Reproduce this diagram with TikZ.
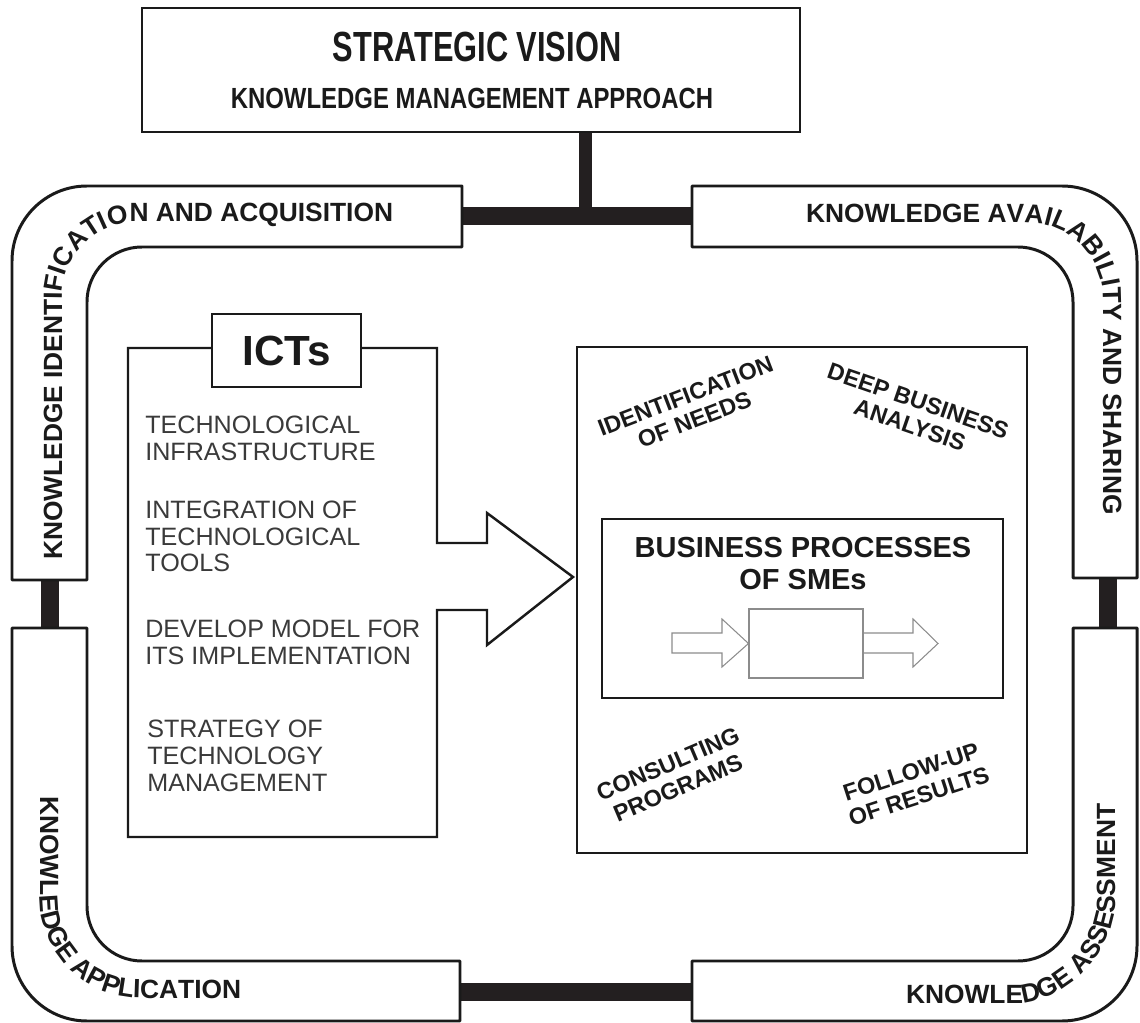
\documentclass[tikz,border=0pt]{standalone}
\usepackage{fontspec}
\setmainfont{Liberation Sans}
\newfontfamily\visionfont[FakeStretch=0.73]{Liberation Sans}
\newfontfamily\approachfont[FakeStretch=0.82]{Liberation Sans}
\usetikzlibrary{decorations.text}
\definecolor{ink}{HTML}{1A1A1A}
\definecolor{barfill}{HTML}{231F20}
\definecolor{itemgray}{HTML}{3A3A3A}
\definecolor{flowgray}{HTML}{8C8C8C}
\newcommand{\bandfont}{\fontsize{15}{17}\selectfont\bfseries}
\tikzset{band/.style = {draw = ink, line width = 1.7pt, fill = white, line join = round}}
\tikzset{bar/.style = {draw = barfill, line width = 10.2pt}}
\tikzset{stem/.style = {draw = barfill, line width = 7.4pt}}
\tikzset{box/.style = {draw = ink, line width = 1.4pt, inner sep = 0}}
\tikzset{item/.style = {anchor = west, align = left, inner sep = 0, text = itemgray, font = \fontsize{14.3}{15.2}\selectfont}}
\tikzset{topic/.style = {align = center, inner sep = 0, text = ink, font = \fontsize{13.3}{14.6}\selectfont\bfseries}}
\tikzset{flow/.style = {draw = flowgray, line width = 0.6pt}}

\begin{document}
\begin{tikzpicture}[x = 0.02cm, y = -0.02cm]
    \useasboundingbox (0, 0) rectangle (1140, 1023);

    % strategic vision on top
    \node [box, line width = 1.5pt, minimum width = 13.16cm, minimum height = 2.48cm] (vision) at (471, 70) {};
    \node [text = ink, font = \visionfont\fontsize{24}{28}\selectfont\bfseries] (vision-title) at (477, 47) {STRATEGIC VISION};
    \node [text = ink, font = \approachfont\fontsize{16.6}{20}\selectfont\bfseries] (vision-sub) at (472, 98) {KNOWLEDGE MANAGEMENT APPROACH};

    % joints between the four bands
    \coordinate (hub) at (585, 216);
    \coordinate (acq-end) at (462, 216);
    \coordinate (avail-end) at (692, 216);
    \coordinate (acq-foot) at (50, 580);
    \coordinate (appl-head) at (50, 628);
    \coordinate (avail-foot) at (1108, 578);
    \coordinate (assess-head) at (1108, 628);
    \coordinate (appl-end) at (460, 992);
    \coordinate (assess-end) at (692, 992);

    \draw [stem] (hub) -- (hub |- vision.south);
    \draw [bar] (acq-end) -- (avail-end);
    \draw [bar] (acq-foot) -- (appl-head);
    \draw [bar] (avail-foot) -- (assess-head);
    \draw [bar] (appl-end) -- (assess-end);

    % the four bands of the cycle
    \draw [band] (462, 186) -- (87, 186) .. controls (45.6, 186) and (12, 219.6) .. (12, 261) -- (12, 580) -- (87, 580)
        -- (87, 302) .. controls (87, 271.6) and (111.6, 247) .. (142, 247) -- (462, 247) -- cycle;
    \draw [band] (692, 186) -- (1062, 186) .. controls (1103.4, 186) and (1137, 219.6) .. (1137, 261) -- (1137, 578) -- (1073, 578)
        -- (1073, 302) .. controls (1073, 271.6) and (1048.4, 247) .. (1018, 247) -- (692, 247) -- cycle;
    \draw [band] (460, 1021) -- (87, 1021) .. controls (45.6, 1021) and (12, 987.4) .. (12, 946) -- (12, 628) -- (87, 628)
        -- (87, 906) .. controls (87, 936.4) and (111.6, 961) .. (142, 961) -- (460, 961) -- cycle;
    \draw [band] (692, 1021) -- (1062, 1021) .. controls (1103.4, 1021) and (1137, 987.4) .. (1137, 946) -- (1137, 628) -- (1073, 628)
        -- (1073, 906) .. controls (1073, 936.4) and (1048.4, 961) .. (1018, 961) -- (692, 961) -- cycle;

    % band titles along the bends
    \path [decorate, decoration = {text along path, text color = ink,
        text = {|\bandfont|KNOWLEDGE IDENTIFICATION AND ACQUISITION}}]
        (62, 560) -- (62, 297) .. controls (62, 255.6) and (95.6, 222) .. (137, 222) -- (470, 222);
    \path [decorate, decoration = {text along path, text color = ink,
        text = {|\bandfont|KNOWLEDGE AVAILABILITY AND SHARING}}]
        (806, 223) -- (1028, 223) .. controls (1069.4, 223) and (1103, 256.6) .. (1103, 298) -- (1103, 575);
    \path [decorate, decoration = {text along path, text color = ink,
        text = {|\bandfont|KNOWLEDGE APPLICATION}}]
        (40, 796) -- (40, 898) .. controls (40, 953) and (85, 998) .. (140, 998) -- (455, 998);
    \path [decorate, decoration = {text along path, text color = ink,
        text = {|\bandfont|KNOWLEDGE ASSESSMENT}}]
        (906, 1003) -- (1015, 1003) .. controls (1070, 1003) and (1115, 948) .. (1115, 903) -- (1115, 640);

    % ICTs box with its arrow
    \draw [box] (128, 348) -- (437, 348) -- (437, 543) -- (487, 543) -- (487, 513) -- (573, 577)
        -- (487, 645) -- (487, 610) -- (437, 610) -- (437, 837) -- (128, 837) -- cycle;
    \node [box, fill = white, minimum width = 2.98cm, minimum height = 1.46cm, text = ink,
        font = \fontsize{24}{28}\selectfont\bfseries] (icts) at (286.5, 350.5) {ICTs};

    \node [item] (infra) at (145, 438.5) {TECHNOLOGICAL\\INFRASTRUCTURE};
    \node [item] (tools) at (145, 536.5) {INTEGRATION OF\\TECHNOLOGICAL\\TOOLS};
    \node [item] (model) at (145, 642.5) {DEVELOP MODEL FOR\\ITS IMPLEMENTATION};
    \node [item] (strategy) at (147, 756) {STRATEGY OF\\TECHNOLOGY\\MANAGEMENT};

    % SME side
    \node [box, minimum width = 9cm, minimum height = 10.12cm] (smes) at (802, 600) {};
    \node [box, minimum width = 8.02cm, minimum height = 3.58cm] (processes) at (802.5, 608.5) {};
    \node [align = center, inner sep = 0, text = ink, font = \fontsize{16.5}{18.2}\selectfont\bfseries]
        (processes-title) at (803, 564) {BUSINESS PROCESSES\\OF SMEs};

    \node [flow, minimum width = 2.28cm, minimum height = 1.38cm, inner sep = 0] (step) at (806, 643.5) {};
    \draw [flow] (672, 633) -- (722, 633) -- (722, 619) -- (step.west) -- (722, 667) -- (722, 653) -- (672, 653) -- cycle;
    \draw [flow] (step.east |- 0, 633) -- (913, 633) -- (913, 619) -- (938, 643.5) -- (913, 667) -- (913, 653) -- (step.east |- 0, 653);

    \node [topic, rotate = 21] (needs) at (690, 408) {IDENTIFICATION\\OF NEEDS};
    \node [topic, rotate = -19] (analysis) at (914, 413) {DEEP BUSINESS\\ANALYSIS};
    \node [topic, rotate = 23] (consulting) at (673, 776) {CONSULTING\\PROGRAMS};
    \node [topic, rotate = 18] (followup) at (915, 784) {FOLLOW-UP\\OF RESULTS};
  \end{tikzpicture}
\end{document}
